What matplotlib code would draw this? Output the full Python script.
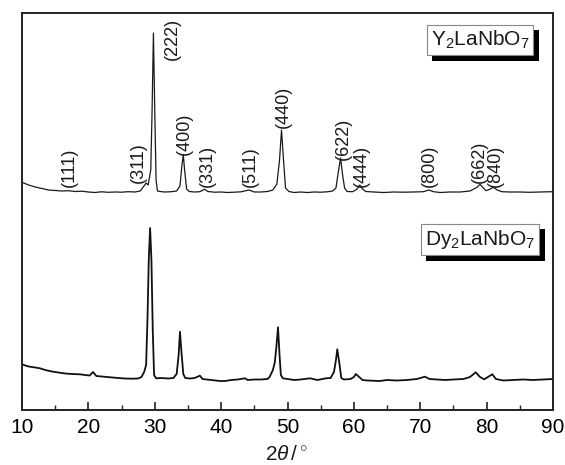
import matplotlib
matplotlib.use("Agg")
import matplotlib.pyplot as plt
import matplotlib.patheffects as pe
from matplotlib.ticker import MultipleLocator

plt.rcParams['font.family'] = ['Liberation Sans', 'DejaVu Sans']
plt.rcParams['mathtext.fontset'] = 'custom'
plt.rcParams['mathtext.rm'] = 'Liberation Sans'
plt.rcParams['mathtext.it'] = 'Liberation Sans:italic'

# ---- data (arbitrary intensity units) ----
y_twotheta = [10.0, 11.0, 12.0, 13.0, 14.0, 15.0, 16.0, 17.0, 18.0, 19.0, 20.0, 21.0, 22.0,
              23.0, 24.0, 25.0, 26.0, 27.0, 27.8, 28.3, 28.7, 29.0, 29.4, 29.6, 29.8, 30.0,
              30.2, 30.4, 30.8, 31.5, 32.5, 33.3, 33.8, 34.1, 34.3, 34.5, 34.8, 35.2, 36.0,
              36.8, 37.5, 38.0, 39.0, 40.0, 41.0, 42.0, 43.0, 44.2, 45.0, 46.0, 47.0, 47.8,
              48.4, 48.8, 49.1, 49.4, 49.7, 50.2, 51.0, 52.0, 53.0, 54.0, 55.0, 56.0, 56.8,
              57.3, 57.7, 58.0, 58.3, 58.6, 59.0, 59.8, 60.4, 60.9, 61.3, 61.8, 63.0, 64.5,
              66.0, 67.5, 69.0, 70.5, 71.3, 72.0, 73.0, 74.5, 76.0, 77.5, 78.5, 79.0, 79.9,
              80.4, 81.0, 81.6, 82.3, 83.5, 85.0, 86.5, 88.0, 90.0]
y_intensity = [227.7, 225.0, 223.0, 221.5, 220.0, 219.5, 219.0, 219.3, 218.5, 218.8, 218.0,
               217.5, 218.2, 217.7, 218.0, 217.8, 218.3, 218.0, 219.0, 223.3, 227.0, 225.0,
               240.0, 300.0, 377.0, 300.0, 230.0, 219.0, 218.5, 218.0, 218.3, 219.0, 224.0,
               245.0, 255.0, 240.0, 221.0, 218.5, 218.0, 218.3, 220.7, 218.5, 217.8, 218.0,
               217.5, 217.8, 218.2, 220.0, 218.0, 218.0, 218.5, 220.0, 226.0, 250.0, 280.0,
               250.0, 222.0, 218.5, 217.5, 218.0, 217.5, 218.0, 217.8, 218.2, 219.0, 222.0,
               240.0, 252.0, 235.0, 222.0, 218.5, 218.3, 220.5, 225.0, 221.0, 218.5, 218.0,
               217.5, 218.0, 217.8, 218.0, 218.3, 220.0, 218.3, 217.5, 218.0, 218.0, 219.0,
               222.5, 225.7, 219.3, 220.5, 222.7, 220.0, 218.3, 218.0, 218.0, 217.7, 218.0,
               218.3]

dy_twotheta = [10.0, 10.5, 11.0, 11.5, 12.0, 12.7, 13.5, 14.5, 15.7, 16.5, 17.5, 18.7, 19.5,
               20.2, 20.7, 21.2, 22.0, 23.3, 24.5, 25.5, 26.5, 27.5, 28.0, 28.4, 28.7, 28.9,
               29.1, 29.3, 29.5, 29.7, 29.9, 30.2, 31.0, 32.0, 32.8, 33.3, 33.6, 33.8, 34.0,
               34.3, 34.6, 35.3, 36.0, 36.8, 37.2, 38.5, 39.8, 40.6, 41.5, 42.5, 43.6, 44.0,
               45.0, 46.0, 47.0, 47.3, 47.8, 48.1, 48.35, 48.57, 48.8, 49.0, 49.3, 50.0, 51.0,
               52.0, 53.4, 54.5, 55.8, 56.5, 57.0, 57.3, 57.5, 57.85, 58.1, 58.5, 59.5, 60.0,
               60.3, 60.8, 61.3, 62.0, 63.9, 65.0, 66.5, 68.0, 69.5, 70.7, 71.4, 73.7, 75.0,
               76.5, 77.5, 78.35, 79.0, 79.65, 80.2, 80.85, 81.4, 82.5, 84.0, 85.5, 87.0, 88.5,
               90.0]
dy_intensity = [45.7, 44.5, 43.5, 43.0, 42.5, 41.7, 40.0, 38.5, 37.3, 36.5, 36.0, 35.7, 35.0,
                34.5, 38.0, 34.0, 33.5, 32.7, 32.0, 31.5, 31.3, 31.5, 33.0, 38.0, 45.0, 90.0,
                150.0, 182.0, 150.0, 80.0, 35.0, 31.7, 32.0, 31.5, 32.0, 36.0, 55.0, 78.3, 60.0,
                36.0, 32.0, 31.5, 32.0, 34.3, 31.0, 30.0, 29.0, 29.0, 30.0, 30.5, 31.7, 30.0,
                30.5, 30.5, 31.0, 33.0, 40.0, 48.0, 65.0, 82.7, 55.0, 35.0, 31.7, 31.0, 30.0,
                30.5, 31.7, 30.0, 31.7, 32.0, 38.0, 50.0, 60.7, 45.0, 32.0, 30.5, 31.0, 33.0,
                36.0, 33.0, 30.0, 29.5, 29.0, 30.0, 29.5, 30.0, 31.0, 33.3, 31.0, 30.0, 30.5,
                31.0, 33.0, 37.7, 33.0, 30.7, 33.0, 35.7, 31.0, 29.5, 30.0, 30.5, 30.0, 30.5,
                31.0]

hkl_labels = ['(111)', '(311)', '(222)', '(400)', '(331)', '(511)', '(440)', '(622)',
              '(444)', '(800)', '(662)', '(840)']
hkl_x = [17.2, 27.5, 32.6, 34.5, 38.0, 44.35, 49.45, 58.35, 61.15, 71.45, 78.95, 81.3]
hkl_y = [223, 227, 350, 255, 223, 223, 282, 250, 223, 223, 227, 223]

sample_names = [r'Y$_2$LaNbO$_7$', r'Dy$_2$LaNbO$_7$']

# ---- figure ----
fig = plt.figure(figsize=(5.65, 4.65), dpi=100)
ax = fig.add_axes([22/565, 55/465, 531/565, 397/465])

ax.plot(y_twotheta, y_intensity, color='#1a1a1a', lw=0.9)
ax.plot(dy_twotheta, dy_intensity, color='#111111', lw=1.3)

ax.set_xlim(10, 90)
ax.set_ylim(0, 397)
ax.xaxis.set_major_locator(MultipleLocator(10))
ax.xaxis.set_minor_locator(MultipleLocator(5))
ax.tick_params(axis='x', which='major', direction='in', length=6, width=1.2,
               labelsize=15, pad=6, top=False, color='#222222')
ax.tick_params(axis='x', which='minor', direction='in', length=3.5, width=1.0,
               top=False, color='#222222')
ax.set_yticks([])
for s in ax.spines.values():
    s.set_linewidth(1.4)
    s.set_color('#222222')

for lab, x, y in zip(hkl_labels, hkl_x, hkl_y):
    ax.text(x, y, lab, rotation=90, ha='center', va='bottom', fontsize=13,
            color='#1a1a1a')

# sample name boxes with drop shadow
for name, (bx, by) in zip(sample_names, [(0.8625, 0.932), (0.8625, 0.43)]):
    t = ax.text(bx, by, name, transform=ax.transAxes, ha='center', va='center',
                fontsize=15, color='#1a1a1a',
                bbox=dict(boxstyle='square,pad=0.2', fc='white', ec='#888888', lw=0.8))
    t.get_bbox_patch().set_path_effects([
        pe.SimplePatchShadow(offset=(4, -4), shadow_rgbFace='black', alpha=1.0),
        pe.Normal()])

fig.text(287/565, 5/465, r'$2\theta\,/\,^{\circ}$', ha='center', va='baseline',
         fontsize=15, color='#1a1a1a')

fig.savefig('out.png', dpi=100)
